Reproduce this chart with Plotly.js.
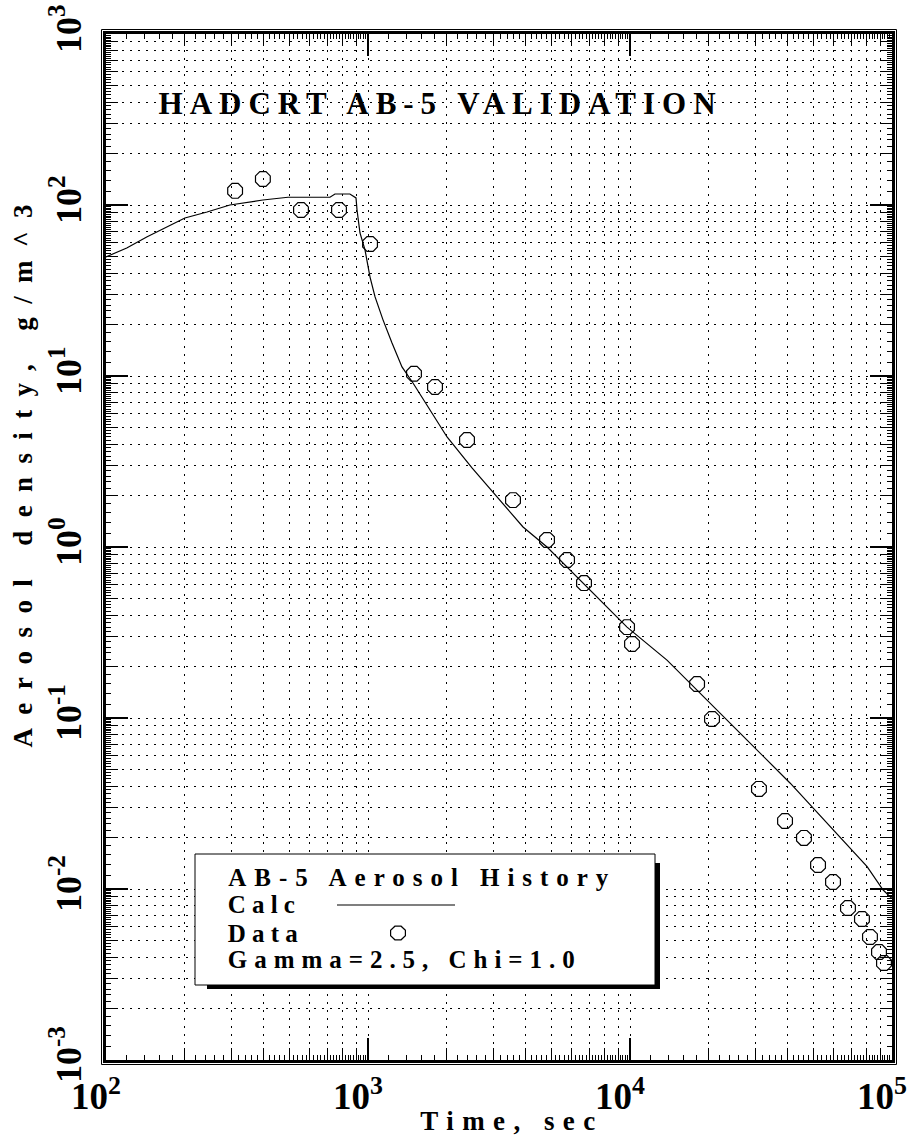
<!DOCTYPE html>
<html>
<head>
<meta charset="utf-8">
<script src="https://cdn.plot.ly/plotly-3.0.1.min.js"></script>
<style>html,body{margin:0;padding:0;background:#fff;}</style>
</head>
<body>
<div id="chart" style="width:907px;height:1136px;"></div>
<script>
// ---------------- data ----------------
const chartTitle = 'HADCRT AB-5 VALIDATION';
const xTitle = 'Time, sec';
const yTitle = 'Aerosol density, g/m^3';
const legendLines = ['AB-5 Aerosol History', 'Calc', 'Data', 'Gamma=2.5, Chi=1.0'];

// calculated aerosol history (solid line)
const timeCalc = [100, 120, 143, 171, 200, 243, 297, 397, 495, 716, 748, 853, 900, 908, 932, 974,
  1018, 1064, 1141, 1235, 1348, 1485, 1725, 2003, 2494, 3000, 3906, 4822, 6443, 9743,
  13840, 18030, 22070, 27980, 40800, 57940, 80350, 92500, 100000];
const densCalc = [49.7, 56.1, 65.0, 74.3, 83.9, 91.0, 100, 107, 111, 111, 116, 116, 110, 93.5, 68.6, 54.6,
  37.9, 29.0, 21.3, 15.6, 11.3, 9.10, 6.32, 4.40, 2.90, 2.10, 1.31, 1.00, 0.641, 0.340,
  0.218, 0.146, 0.107, 0.0743, 0.0417, 0.0231, 0.0135, 0.00986, 0.0088];

// measured data (octagons)
const timeData = [311, 397, 555, 775, 1018, 1498, 1802, 2387, 3576, 4822, 5750, 6675, 9743, 10180,
  18030, 20560, 31060, 39060, 46130, 52200, 59550, 67920, 76800, 82400, 89200, 93200];
const densData = [121, 142, 93.5, 93.5, 59.2, 10.3, 8.63, 4.22, 1.88, 1.10, 0.839, 0.615, 0.340, 0.271,
  0.158, 0.0987, 0.0385, 0.0250, 0.0199, 0.0138, 0.0110, 0.00774, 0.00668, 0.00524, 0.00428, 0.00369];

// tick labels
const xTickVals = [100, 1000, 10000, 100000];
const xTickText = ['10<sup>2</sup>', '10<sup>3</sup>', '10<sup>4</sup>', '10<sup>5</sup>'];
const yTickVals = [0.001, 0.01, 0.1, 1, 10, 100, 1000];
const yTickText = ['10<sup>-3</sup>', '10<sup>-2</sup>', '10<sup>-1</sup>', '10<sup>0</sup>',
  '10<sup>1</sup>', '10<sup>2</sup>', '10<sup>3</sup>'];

// ---------------- helpers (tick positions of the log rulers) ----------------
function subTicks(d0, d1, mults) {
  const out = [];
  for (let d = d0; d < d1; d++) for (const m of mults) out.push(m * Math.pow(10, d));
  return out;
}
const minorMults = [2, 3, 4, 5, 6, 7, 8, 9];
const fineMults = [];
for (let m = 1; m <= 9; m++) for (let k = 1; k <= 4; k++) fineMults.push(m + 0.2 * k);

const FONT = 'Liberation Serif, Times New Roman, serif';
const BLACK = '#000';
const DOT = '2px,6px';

// plot area in pixels: x 106..892, y 34..1060
const PW = 786, PH = 1026;
const px = v => (v - 106) / PW;
const py = v => (1060 - v) / PH;

function axisBase(range, vals, text, minorVals, fontSize) {
  return {
    type: 'log', range: range, autorange: false,
    tickmode: 'array', tickvals: vals, ticktext: text,
    ticks: 'inside', ticklen: 22, tickwidth: 1.5, tickcolor: BLACK,
    showline: true, linewidth: 3, linecolor: BLACK, mirror: 'allticks',
    showgrid: true, gridcolor: BLACK, gridwidth: 1, griddash: DOT,
    zeroline: false, ticklabeloverflow: 'allow',
    tickfont: {family: FONT, size: fontSize, weight: 'bold', color: BLACK},
    minor: {tickmode: 'array', tickvals: minorVals, ticks: 'inside', ticklen: 12,
      tickwidth: 1, tickcolor: BLACK, showgrid: true, gridcolor: BLACK, gridwidth: 1, griddash: DOT}
  };
}

const xaxis = axisBase([2, 5], xTickVals, xTickText, subTicks(2, 5, minorMults), 37);
xaxis.ticklabelstandoff = 2;
xaxis.ticklabelshift = -10;
const yaxis = axisBase([-3, 3], yTickVals, yTickText, subTicks(-3, 3, minorMults), 36);
yaxis.tickangle = -90;
yaxis.ticklabelstandoff = 8;

function fineAxis(range, vals, over, anchor, side) {
  return {
    type: 'log', range: range, autorange: false, overlaying: over, anchor: anchor, side: side,
    tickmode: 'array', tickvals: vals, ticks: 'inside', ticklen: 5, tickwidth: 1, tickcolor: BLACK,
    showticklabels: false, showgrid: false, showline: false, zeroline: false, mirror: 'ticks'
  };
}

const traces = [
  {x: timeCalc, y: densCalc, mode: 'lines', name: legendLines[1],
    line: {color: BLACK, width: 1.2}, showlegend: false},
  {x: timeData, y: densData, mode: 'markers', name: legendLines[2],
    marker: {symbol: 'octagon-open', size: 16, color: BLACK, line: {color: BLACK, width: 1.2}},
    showlegend: false, cliponaxis: true},
  {x: [], y: [], xaxis: 'x2', yaxis: 'y2', showlegend: false, hoverinfo: 'skip'}
];

const annFont = (s) => ({family: FONT, size: s, weight: 'bold', color: BLACK});
const annotations = [
  {text: chartTitle, x: px(436.5), y: py(103), font: annFont(31)},
  {text: yTitle, x: px(23), y: py(476), textangle: -90, font: annFont(27)},
  {text: xTitle, x: px(508), y: py(1121), font: annFont(27)},
  {text: legendLines[0], x: px(418), y: py(877), font: annFont(25)},
  {text: legendLines[1], x: px(261.5), y: py(904), font: annFont(25)},
  {text: legendLines[2], x: px(263), y: py(933), font: annFont(25)},
  {text: legendLines[3], x: px(401.5), y: py(959), font: annFont(25)}
].map(a => Object.assign({xref: 'paper', yref: 'paper', xanchor: 'center', yanchor: 'middle',
  showarrow: false}, a));
const fitWidths = [557, 543, 175, 380, 67, 70, 347];

const octagon = 'M 7.4,2.8 L 3.1,6.8 L -3.1,6.8 L -7.4,2.8 L -7.4,-2.8 L -3.1,-6.8 L 3.1,-6.8 L 7.4,-2.8 Z';
const off = 4.5;
const shapes = [
  // outer thin frame
  {type: 'rect', xref: 'paper', yref: 'paper', x0: -off / PW, x1: 1 + off / PW, y0: -off / PH, y1: 1 + off / PH,
    line: {color: BLACK, width: 1}, fillcolor: 'rgba(0,0,0,0)', layer: 'above'},
  // legend shadow
  {type: 'rect', xref: 'paper', yref: 'paper', x0: px(207), x1: px(660), y0: py(989), y1: py(863),
    line: {width: 0}, fillcolor: BLACK, layer: 'above'},
  // legend box
  {type: 'rect', xref: 'paper', yref: 'paper', x0: px(195), x1: px(655), y0: py(985), y1: py(854),
    line: {color: BLACK, width: 1}, fillcolor: '#fff', layer: 'above'},
  // Calc sample line
  {type: 'line', xref: 'paper', yref: 'paper', x0: px(337), x1: px(455), y0: py(905), y1: py(905),
    line: {color: BLACK, width: 1.2}, layer: 'above'},
  // Data sample marker
  {type: 'path', xref: 'paper', yref: 'paper', xsizemode: 'pixel', ysizemode: 'pixel',
    xanchor: px(398), yanchor: py(933), path: octagon, line: {color: BLACK, width: 1.2},
    fillcolor: 'rgba(0,0,0,0)', layer: 'above'}
];

const layout = {
  width: 907, height: 1136,
  margin: {l: 106, r: 15, t: 34, b: 76, pad: 0},
  paper_bgcolor: '#fff', plot_bgcolor: '#fff',
  showlegend: false,
  xaxis: xaxis, yaxis: yaxis,
  xaxis2: fineAxis([2, 5], subTicks(2, 5, fineMults), 'x', 'y', 'bottom'),
  yaxis2: fineAxis([-3, 3], subTicks(-3, 3, fineMults), 'y', 'x', 'left'),
  annotations: annotations,
  shapes: shapes
};

function fitTexts() {
  fitWidths.forEach((w, i) => {
    const t = document.querySelector('.annotation[data-index="' + i + '"] text.annotation-text');
    if (!t) return;
    const n = t.textContent.length;
    t.style.letterSpacing = '0px';
    const natural = t.getComputedTextLength();
    const ls = (w - natural) / Math.max(1, n - 1);
    t.style.letterSpacing = ls + 'px';
    t.setAttribute('dx', (ls / 2).toFixed(2));
  });
}

Plotly.newPlot('chart', traces, layout, {staticPlot: true}).then(fitTexts);
</script>
</body>
</html>
